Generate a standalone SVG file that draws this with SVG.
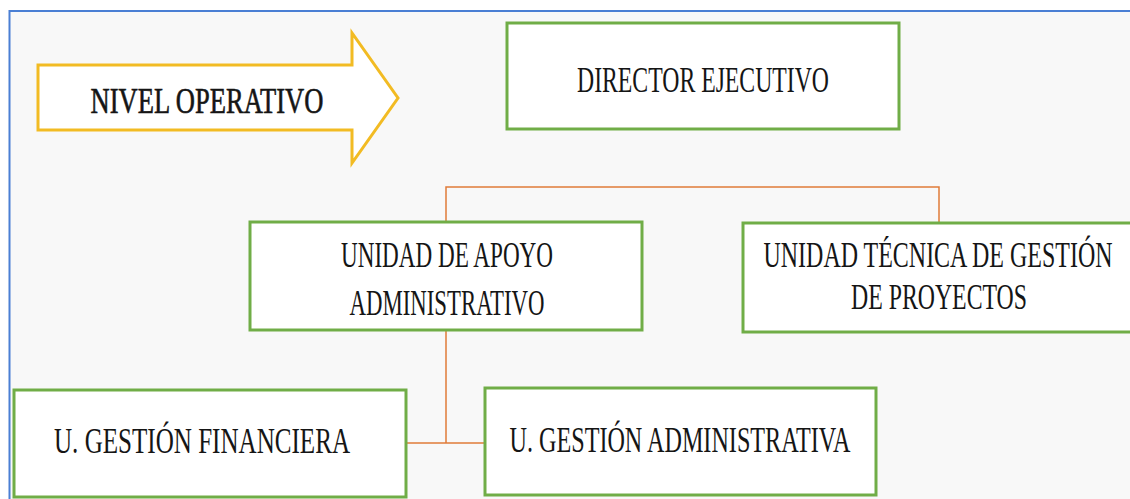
<svg xmlns="http://www.w3.org/2000/svg" width="1130" height="499" viewBox="0 0 1130 499">
<style>
.box{fill:#ffffff;stroke:#70ad47;stroke-width:3}
.t{font-family:"Liberation Serif","DejaVu Serif",serif;font-size:35px;fill:#151515;text-anchor:middle}
.c{fill:none;stroke:#e07b39;stroke-width:1.5}
</style>
<rect x="0" y="0" width="1130" height="499" fill="#ffffff"/>
<rect x="9.5" y="11" width="1125" height="495" fill="#f8f8f8" stroke="#4a7fd4" stroke-width="2"/>
<g id="arrow">
<polygon points="38,65 352,65 352,33 398,98 352,163 352,130 38,130" fill="#ffffff" stroke="#f2bb23" stroke-width="3" stroke-linejoin="miter"/>
<text class="t" x="207" y="113" textLength="233" lengthAdjust="spacingAndGlyphs" stroke="#151515" stroke-width="0.6">NIVEL OPERATIVO</text>
</g>
<g id="connectors">
<path class="c" d="M446,222 V187 H939 V223"/>
<path class="c" d="M446,330 V443 M406,443 H486"/>
</g>
<g id="director">
<rect class="box" x="507" y="23" width="392" height="106"/>
<text class="t" x="703" y="92" textLength="252" lengthAdjust="spacingAndGlyphs">DIRECTOR EJECUTIVO</text>
</g>
<g id="apoyo">
<rect class="box" x="250" y="222" width="392" height="108"/>
<text class="t" x="447" y="267" textLength="212" lengthAdjust="spacingAndGlyphs">UNIDAD DE APOYO</text>
<text class="t" x="447" y="315" textLength="195" lengthAdjust="spacingAndGlyphs">ADMINISTRATIVO</text>
</g>
<g id="tecnica">
<rect class="box" x="743" y="223" width="400" height="109"/>
<text class="t" x="938" y="267" textLength="349" lengthAdjust="spacingAndGlyphs">UNIDAD TÉCNICA DE GESTIÓN</text>
<text class="t" x="939" y="309" textLength="176" lengthAdjust="spacingAndGlyphs">DE PROYECTOS</text>
</g>
<g id="financiera">
<rect class="box" x="14" y="390" width="392" height="107"/>
<text class="t" x="202" y="453" textLength="296" lengthAdjust="spacingAndGlyphs">U. GESTIÓN FINANCIERA</text>
</g>
<g id="administrativa">
<rect class="box" x="485" y="388" width="391" height="107"/>
<text class="t" x="680" y="452" textLength="341" lengthAdjust="spacingAndGlyphs">U. GESTIÓN ADMINISTRATIVA</text>
</g>
</svg>
